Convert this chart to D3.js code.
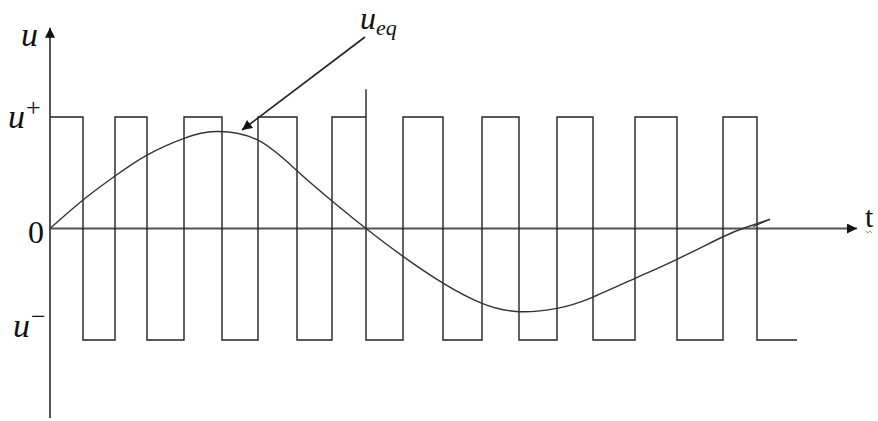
<!DOCTYPE html>
<html>
<head>
<meta charset="utf-8">
<script src="https://cdn.jsdelivr.net/npm/d3@7"></script>
<style>
  html, body { margin: 0; padding: 0; background: #fff; overflow: hidden; }
  svg { display: block; }
  text { font-family: "Liberation Serif", "DejaVu Serif", serif; fill: #111; }
</style>
</head>
<body>
<svg id="chart" width="878" height="421"></svg>
<script>
// ---- data ----
// switching instants of the relay output (time units), starting high at t = 0
const switchTimes = [0, 3.3, 6.5, 9.7, 13.4, 17.2, 20.8, 24.7, 28.2, 31.6, 35.3,
                     39.3, 43.2, 46.9, 50.7, 54.3, 58.5, 62.7, 67.3, 70.7];
const switchEnd = 74.7;              // end of the last (low) segment
const markerTime = 31.6;             // tall edge marking half period
const markerTop = 1.25;
// equivalent control u_eq (time, value)
const ueqTime  = [0, 3.3, 6.5, 9.7, 13.4, 16.6, 20.8, 24.7, 28.2, 31.6, 35.3,
                  39.3, 43.2, 46.9, 50.7, 54.0, 58.5, 62.7, 67.3, 69.5, 72.0];
const ueqValue = [0, 0.256, 0.471, 0.659, 0.809, 0.870, 0.792, 0.518, 0.247, 0.0, -0.25,
                  -0.49, -0.671, -0.746, -0.716, -0.626, -0.447, -0.276, -0.074, 0.007, 0.083];
const ueqHookTime = [72.0, 70.3];
const ueqHookValue = [0.083, 0.016];
const levelLabels = [{v: 1, base: "u", sup: "+"}, {v: 0, base: "0"}, {v: -1, base: "u", sup: "−"}];
const axisEndTime = 80.7;
const axisTopValue = 1.8;
const axisBottomValue = -1.7;

// ---- scales ----
const x = d3.scaleLinear().domain([0, 80.7]).range([50, 857]);
const y = d3.scaleLinear().domain([-1, 1]).range([340, 117]);

const svg = d3.select("#chart");

svg.append("defs").append("marker")
  .attr("id", "arr").attr("viewBox", "0 0 10 10").attr("refX", 10).attr("refY", 5)
  .attr("markerWidth", 14).attr("markerHeight", 10).attr("markerUnits", "userSpaceOnUse")
  .attr("orient", "auto")
  .append("path").attr("d", "M0,0 L10,5 L0,10 Z").attr("fill", "#111");

// ---- axes ----
svg.append("line")
  .attr("x1", x(0)).attr("x2", x(0))
  .attr("y1", y(axisBottomValue)).attr("y2", y(axisTopValue))
  .attr("stroke", "#555").attr("stroke-width", 2)
  .attr("marker-end", "url(#arr)");
svg.append("line")
  .attr("x1", x(0)).attr("x2", x(axisEndTime))
  .attr("y1", y(0)).attr("y2", y(0))
  .attr("stroke", "#555").attr("stroke-width", 2)
  .attr("marker-end", "url(#arr)");

// ---- square wave ----
const pts = switchTimes.map((t, i) => [t, i % 2 === 0 ? 1 : -1]);
pts.push([switchEnd, pts[pts.length - 1][1]]);
svg.append("path")
  .attr("d", d3.line().x(d => x(d[0])).y(d => y(d[1])).curve(d3.curveStepAfter)(pts))
  .attr("fill", "none").attr("stroke", "#222").attr("stroke-width", 1.4);
svg.append("line")
  .attr("x1", x(markerTime)).attr("x2", x(markerTime))
  .attr("y1", y(markerTop)).attr("y2", y(1))
  .attr("stroke", "#222").attr("stroke-width", 1.4);

// ---- u_eq curve ----
const curvePts = ueqTime.map((t, i) => [t, ueqValue[i]]);
svg.append("path")
  .attr("d", d3.line().x(d => x(d[0])).y(d => y(d[1])).curve(d3.curveNatural)(curvePts))
  .attr("fill", "none").attr("stroke", "#333").attr("stroke-width", 1.4);
svg.append("path")
  .attr("d", d3.line().x(d => x(d[0])).y(d => y(d[1]))(ueqHookTime.map((t, i) => [t, ueqHookValue[i]])))
  .attr("fill", "none").attr("stroke", "#333").attr("stroke-width", 1.2);

// ---- labels ----
svg.append("text").attr("x", 21).attr("y", 46)
  .attr("font-size", 34).attr("font-style", "italic").text("u");

levelLabels.forEach(l => {
  if (l.base === "0") {
    svg.append("text").attr("x", 44).attr("y", y(0) + 14)
      .attr("text-anchor", "end").attr("font-size", 32).text("0");
  } else {
    const lx = l.v > 0 ? 8 : 13;
    const ly = l.v > 0 ? y(1) + 11 : y(-1) - 3;
    const t = svg.append("text").attr("x", lx).attr("y", ly).attr("font-size", 34);
    t.append("tspan").attr("font-style", "italic").text(l.base);
    t.append("tspan").attr("dy", -12).attr("dx", 1).attr("font-size", 26).text(l.sup);
  }
});

// u_eq label with pointer arrow
const lab = svg.append("text").attr("x", 360).attr("y", 29).attr("font-size", 32).attr("font-style", "italic");
lab.append("tspan").text("u");
lab.append("tspan").attr("dy", 6).attr("font-size", 22).text("eq");
svg.append("line")
  .attr("x1", 365).attr("y1", 37).attr("x2", 242).attr("y2", 130)
  .attr("stroke", "#222").attr("stroke-width", 1.6)
  .attr("marker-end", "url(#arr)");

// t label at the end of the time axis
svg.append("text").attr("x", 865).attr("y", 227).attr("font-size", 30).text("t");
svg.append("path").attr("d", "M866,231 l2,2 l2,-2 l2,2")
  .attr("fill", "none").attr("stroke", "#4a4").attr("stroke-width", 0.8);
</script>
</body>
</html>
